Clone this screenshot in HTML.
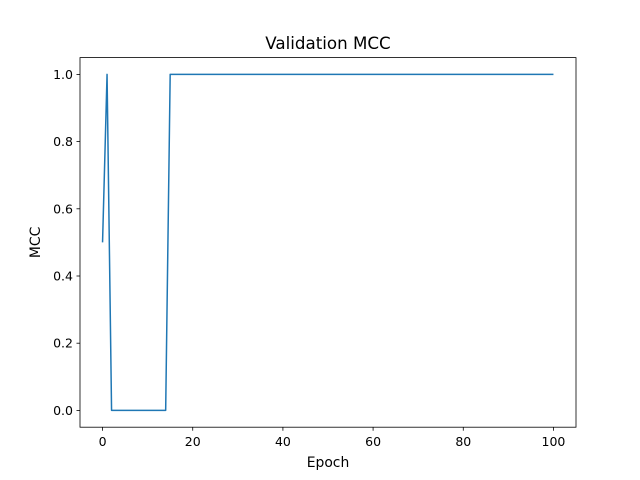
<!DOCTYPE html>
<html><head><meta charset="utf-8"><style>
body{margin:0;background:#fff}
svg{display:block;font-family:"DejaVu Sans","Liberation Sans",sans-serif}
</style></head><body>
<svg id="chart" width="640" height="480" viewBox="0 0 640 480">
<rect width="640" height="480" fill="#fff"/>
<text x="328" y="49" text-anchor="middle" font-size="16.7">Validation MCC</text>
<g id="ticks"></g>
<path id="line" fill="none" stroke="#1f77b4" stroke-width="1.5" stroke-linejoin="round"/>
<rect x="80" y="57.6" width="496" height="369.6" fill="none" stroke="#000" stroke-width="0.8"/>
<text x="328" y="467" text-anchor="middle" font-size="13.9">Epoch</text>
<text transform="translate(40,242.4) rotate(-90)" text-anchor="middle" font-size="13.9">MCC</text>
</svg>
<script>
const epochs = [0,1,2,3,4,5,6,7,8,9,10,11,12,13,14,15,16,17,18,19,20,21,22,23,24,25,26,27,28,29,30,31,32,33,34,35,36,37,38,39,40,41,42,43,44,45,46,47,48,49,50,51,52,53,54,55,56,57,58,59,60,61,62,63,64,65,66,67,68,69,70,71,72,73,74,75,76,77,78,79,80,81,82,83,84,85,86,87,88,89,90,91,92,93,94,95,96,97,98,99,100];
const mcc = [0.5,1,0,0,0,0,0,0,0,0,0,0,0,0,0,1,1,1,1,1,1,1,1,1,1,1,1,1,1,1,1,1,1,1,1,1,1,1,1,1,1,1,1,1,1,1,1,1,1,1,1,1,1,1,1,1,1,1,1,1,1,1,1,1,1,1,1,1,1,1,1,1,1,1,1,1,1,1,1,1,1,1,1,1,1,1,1,1,1,1,1,1,1,1,1,1,1,1,1,1,1];
const xTicks = [0,20,40,60,80,100];
const yTicks = [0.0,0.2,0.4,0.6,0.8,1.0];
const X0=80,X1=576,Y0=427.2,Y1=57.6;
const xmin=-5,xmax=105,ymin=-0.05,ymax=1.05;
const sx=v=>X0+(v-xmin)/(xmax-xmin)*(X1-X0);
const sy=v=>Y0-(v-ymin)/(ymax-ymin)*(Y0-Y1);
const NS="http://www.w3.org/2000/svg";
const g=document.getElementById('ticks');
function mk(tag,attrs,txt){const e=document.createElementNS(NS,tag);for(const k in attrs)e.setAttribute(k,attrs[k]);if(txt!==undefined)e.textContent=txt;g.appendChild(e);return e;}
xTicks.forEach(t=>{
  const l=mk('line',{x1:sx(t),x2:sx(t),y1:Y0,y2:Y0+3.5,stroke:'#000','stroke-width':0.8});
  
  
  const s=mk('text',{x:sx(t),y:Y0+19,'text-anchor':'middle','font-size':12.5},String(t));
  
  
});
yTicks.forEach(t=>{
  const l=mk('line',{x1:X0-3.5,x2:X0,y1:sy(t),y2:sy(t),stroke:'#000','stroke-width':0.8});
  
  
  const s=mk('text',{x:X0-7,y:sy(t)+4.5,'text-anchor':'end','font-size':12.5},t.toFixed(1));
  
  
});
document.getElementById('line').setAttribute('d',epochs.map((e,i)=>(i?'L':'M')+sx(e).toFixed(2)+','+sy(mcc[i]).toFixed(2)).join(''));
</script>
</body></html>
